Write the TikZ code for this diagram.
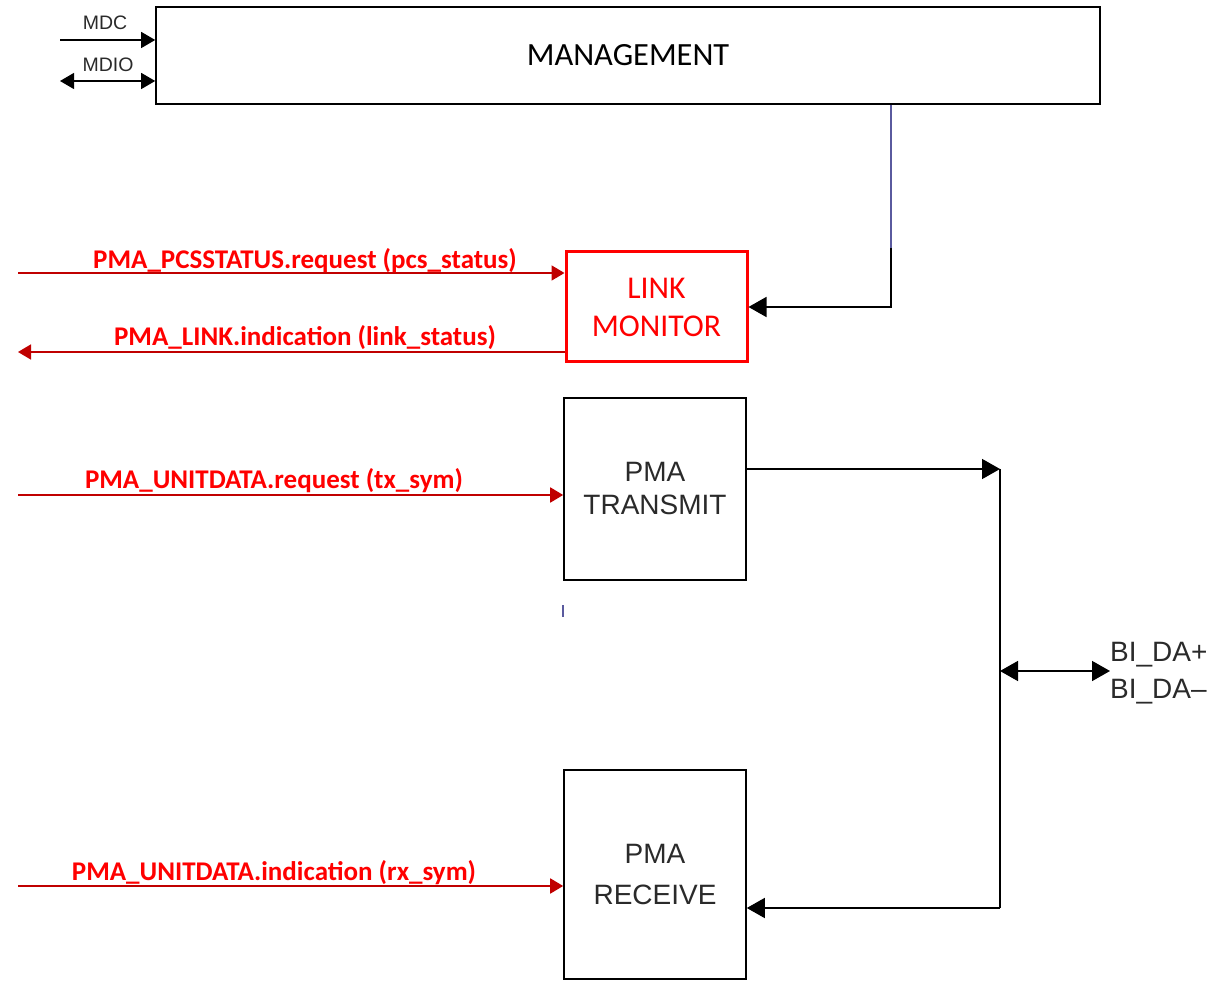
\documentclass[tikz,border=0pt]{standalone}
\usepackage{fontspec}
\setmainfont{Carlito}
\newfontfamily\arialf{Liberation Sans}
\usetikzlibrary{arrows.meta}
\definecolor{lred}{HTML}{C00000}
\definecolor{bred}{HTML}{FF0000}
\definecolor{txtg}{HTML}{2A2A2A}
\definecolor{mgline}{HTML}{5A5A9E}
\tikzset{
  box/.style={draw=black, line width=1.6pt, minimum width=#1, inner sep=0pt},
  bigtip/.style={-{Triangle[length=18pt,width=20pt]}},
  bigtips/.style={{Triangle[length=18pt,width=20pt]}-{Triangle[length=18pt,width=20pt]}},
  redarr/.style={draw=lred, line width=1.8pt, -{Triangle[length=13pt,width=15pt]}},
  redlab/.style={text=bred, font=\fontsize{27}{32}\selectfont\bfseries, anchor=base, inner sep=0pt},
  arlab/.style={text=txtg, align=center},
}
\begin{document}
\begin{tikzpicture}[x=1pt,y=-1pt]
\useasboundingbox (0,0) rectangle (1232,981);
% boxes
\node[box=944pt, minimum height=97pt, font=\fontsize{32.4}{38}\selectfont] (mgmt) at (628,55.5) {MANAGEMENT};
\node[box=181pt, draw=bred, line width=3pt, minimum height=110pt, text=bred, align=center,
      font=\fontsize{31.7}{38}\selectfont] (link) at (656.5,307) {LINK\\MONITOR};
\node[box=182pt, minimum height=182pt, arlab, font=\arialf\fontsize{28}{33}\selectfont] (tx) at (655,489) {PMA\\TRANSMIT};
\node[box=182pt, minimum height=209pt, arlab, font=\arialf\fontsize{28}{41}\selectfont] (rx) at (655,874.5) {PMA\\RECEIVE};

% MDC / MDIO
\coordinate (mdc) at (60,40);
\coordinate (mdio) at (60,81);
\draw[line width=1.2pt, -{Triangle[length=14pt,width=16pt]}] (mdc) -- (mdc -| mgmt.west);
\draw[line width=1.2pt, {Triangle[length=14pt,width=16pt]}-{Triangle[length=14pt,width=16pt]}] (mdio) -- (mdio -| mgmt.west);
\node[text=txtg, font=\arialf\fontsize{19.5}{22}\selectfont, anchor=base, inner sep=0pt] (mdcl) at (105,30) {MDC};
\node[text=txtg, font=\arialf\fontsize{19.5}{22}\selectfont, anchor=base, inner sep=0pt] (mdiol) at (108,72) {MDIO};

% management to link monitor
\coordinate (bend) at (891,248);
\draw[mgline, line width=1.6pt] (mgmt.south -| bend) -- (bend);
\draw[line width=1.6pt, bigtip] (bend) |- (link.east);

% red arrows
\coordinate (pcs) at (18,273);
\coordinate (lnk) at (18,352);
\coordinate (txr) at (18,495);
\coordinate (rxi) at (18,886);
\draw[redarr] (pcs) -- (pcs -| link.west);
\draw[redarr] (lnk -| link.west) -- (lnk);
\draw[redarr] (txr) -- (txr -| tx.west);
\draw[redarr] (rxi) -- (rxi -| rx.west);
\node[redlab] (pcsl) at (305,269) {PMA\_PCSSTATUS.request (pcs\_status)};
\node[redlab] (lnkl) at (305,346) {PMA\_LINK.indication (link\_status)};
\node[redlab] (txrl) at (274,489) {PMA\_UNITDATA.request (tx\_sym)};
\node[redlab] (rxil) at (274,880) {PMA\_UNITDATA.indication (rx\_sym)};

% bus on right
\coordinate (busTop) at (1000,469);
\coordinate (busMid) at (1000,671);
\coordinate (busBot) at (1000,908);
\coordinate (biEnd) at (1110,671);
\draw[line width=1.6pt, bigtip] (tx.east |- busTop) -- (busTop);
\draw[line width=1.6pt] (busTop) -- (busBot);
\draw[line width=1.6pt, bigtip] (busBot) -- (busBot -| rx.east);
\draw[line width=1.6pt, bigtips] (busMid) -- (biEnd);
\node[text=txtg, font=\arialf\fontsize{28}{37}\selectfont, anchor=west, align=left, inner sep=0pt] (bil) at (1110,673) {BI\_DA+\\BI\_DA\textendash};

% small artefact tick
\draw[mgline, line width=1.2pt] (563,605) -- (563,617);
\end{tikzpicture}
\end{document}
